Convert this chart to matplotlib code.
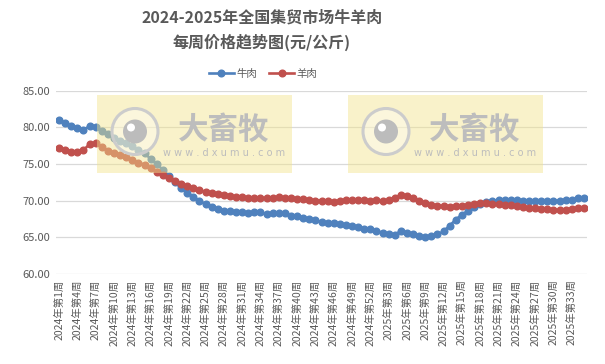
import matplotlib.pyplot as plt
from matplotlib.patches import Rectangle, Ellipse

plt.rcParams['font.family'] = ['Noto Sans CJK SC', 'DejaVu Sans']

# 2024 week 1 .. 2025 week 35
years = [2024] * 52 + [2025] * 35
weeks = list(range(1, 53)) + list(range(1, 36))
labels = [f'{y}年第{w}周' for y, w in zip(years, weeks)]

beef = [81.0, 80.6, 80.2, 79.9, 79.6, 80.2, 80.1, 79.5, 79.05, 78.6,
        78.2, 77.8, 77.4, 76.9, 76.5, 75.7, 75.0, 74.2, 73.4, 72.5,
        71.7, 71.1, 70.5, 70.0, 69.5, 69.2, 68.9, 68.6, 68.55, 68.5,
        68.4, 68.3, 68.4, 68.4, 68.15, 68.3, 68.3, 68.3, 67.9, 67.9,
        67.7, 67.45, 67.3, 67.1, 67.0, 66.9, 66.8, 66.7, 66.5, 66.4,
        66.2, 66.1, 65.9, 65.6, 65.45, 65.3, 65.9, 65.6, 65.5, 65.2,
        65.05, 65.2, 65.4, 65.8, 66.6, 67.4, 68.1, 68.6, 69.1, 69.6,
        69.85, 70.0, 70.05, 70.1, 70.05, 70.05, 69.95, 69.95, 70.0, 70.0,
        69.95, 69.95, 70.0, 70.05, 70.1, 70.3, 70.4]
mutton = [77.15, 76.9, 76.7, 76.7, 76.9, 77.7, 77.8, 77.35, 76.8, 76.55,
          76.2, 75.9, 75.55, 75.2, 74.9, 74.4, 73.95, 73.5, 73.1, 72.7,
          72.3, 72.0, 71.7, 71.45, 71.2, 71.05, 70.9, 70.8, 70.65, 70.55,
          70.45, 70.4, 70.3, 70.3, 70.3, 70.4, 70.45, 70.4, 70.3, 70.25,
          70.2, 70.1, 70.0, 70.0, 69.9, 69.85, 70.0, 70.05, 70.05, 70.05,
          70.05, 70.0, 70.05, 69.95, 70.05, 70.4, 70.8, 70.65, 70.35, 69.95,
          69.7, 69.45, 69.3, 69.25, 69.2, 69.3, 69.3, 69.45, 69.55, 69.65,
          69.65, 69.55, 69.55, 69.45, 69.35, 69.25, 69.15, 69.05, 68.95, 68.9,
          68.85, 68.75, 68.7, 68.75, 68.9, 69.0, 69.0]
yticks = [60, 65, 70, 75, 80, 85]

W, H = 605, 364
fig = plt.figure(figsize=(W / 100, H / 100), dpi=100)
ax = fig.add_axes([56 / W, 1 - 274 / H, (587 - 56) / W, (274 - 90.7) / H])

x = list(range(len(labels)))
ax.plot(x, beef, color='#4F81BD', lw=1.9, marker='o', ms=4.8, label='牛肉', zorder=3)
ax.plot(x, mutton, color='#C0504D', lw=1.9, marker='o', ms=4.8, label='羊肉', zorder=3)

ax.set_xlim(-0.5, len(labels) - 0.5)
ax.set_ylim(60, 85)
ax.set_yticks(yticks)
ax.set_yticklabels([f'{v:.2f}' for v in yticks], color='#595959', fontsize=8)
ax.set_xticks(x[::3])
ax.set_xticklabels(labels[::3], rotation=90, color='#595959', fontsize=7.5)
ax.tick_params(length=0, pad=4)
ax.grid(axis='y', color='#d9d9d9', lw=0.9)
for s in ax.spines.values():
    s.set_visible(False)

fig.text(262 / W, 1 - 18 / H, '2024-2025年全国集贸市场牛羊肉', ha='center', va='center',
         fontsize=11.5, fontweight='bold', color='#595959')
fig.text(262 / W, 1 - 42 / H, '每周价格趋势图(元/公斤)', ha='center', va='center',
         fontsize=11.5, fontweight='bold', color='#595959')
fig.legend(loc='center', bbox_to_anchor=(263 / W, 1 - 74 / H), ncol=2, frameon=False,
           fontsize=7.5, handlelength=2.4, columnspacing=1.2, handletextpad=0.2,
           labelcolor='#595959')


# watermark boxes
def px(xp, yp):
    return xp / W, 1 - yp / H


for left in [97, 348]:
    fig.add_artist(Rectangle(px(left, 173), 195 / W, 78 / H, transform=fig.transFigure,
                             facecolor='#f2e48a', alpha=0.45, edgecolor='none', zorder=5))
    cx, cy = left + 38, 131.5
    fig.add_artist(Ellipse(px(cx, cy), 46 / W, 46 / H, transform=fig.transFigure,
                           facecolor=(1, 1, 1, 0.35), edgecolor='#cccccc', lw=2.2, zorder=6))
    fig.add_artist(Ellipse(px(cx, cy), 24 / W, 24 / H, transform=fig.transFigure,
                           facecolor='#bcbcbc', edgecolor='none', zorder=7))
    fig.add_artist(Ellipse(px(cx - 4, cy - 4), 8 / W, 8 / H, transform=fig.transFigure,
                           facecolor='white', edgecolor='none', zorder=8))
    fig.text(*px(left + 127, 130), '大畜牧', ha='center', va='center', fontsize=22,
             fontweight='bold', color='#bdbdbd', zorder=7)
    fig.text(*px(left + 127, 153), 'w w w . d x u m u . c o m', ha='center', va='center',
             fontsize=7, color='#bdbdbd', family='DejaVu Sans', zorder=7)

fig.savefig('out.png', dpi=100)
